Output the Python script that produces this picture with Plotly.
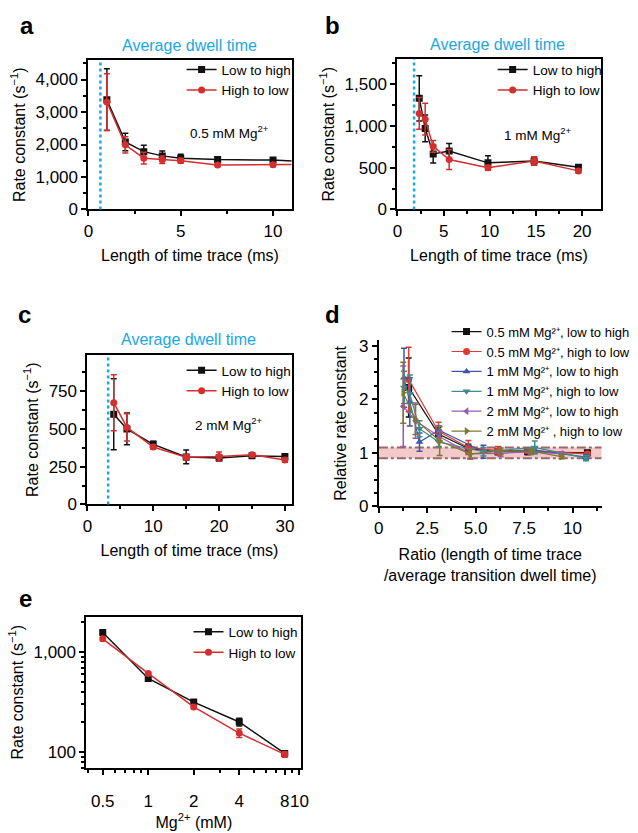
import math
import plotly.graph_objects as go

W, H = 638, 833
FONT = "Liberation Sans, Arial, sans-serif"
BLACK = "#111111"
RED = "#D32F2F"
SKY = "#1AA7E4"

# ---- panel a : 0.5 mM Mg2+ ----
A_T = [1, 2, 3, 4, 5, 7, 10, 15]
A_LH = [3380, 2080, 1780, 1650, 1580, 1540, 1520, 1400]
A_LH_ERR = [950, 270, 200, 150, 120, 70, 50, 50]
A_HL = [3310, 1990, 1580, 1530, 1500, 1370, 1375, 1400]
A_HL_ERR = [870, 250, 180, 115, 80, 50, 50, 50]

# ---- panel b : 1 mM Mg2+ ----
B_T = [2.36, 3.0, 3.87, 5.6, 9.8, 14.8, 19.6]
B_LH = [1330, 970, 665, 700, 558, 580, 505]
B_LH_ERR = [270, 160, 110, 90, 85, 50, 30]
B_HL = [1150, 1080, 755, 598, 500, 580, 462]
B_HL_ERR = [190, 190, 70, 120, 30, 50, 25]

# ---- panel c : 2 mM Mg2+ ----
C_T = [4, 6, 10, 15, 20, 25, 30]
C_LH = [597, 500, 398, 315, 308, 322, 318]
C_LH_ERR = [235, 105, 20, 45, 20, 12, 12]
C_HL = [674, 510, 380, 312, 318, 330, 295]
C_HL_ERR = [185, 90, 15, 20, 30, 12, 15]

# average dwell time (ms) for a, b, c
DWELL = [0.65, 1.8, 3.15]

# ---- panel d : relative rate constants ----
D_X_05 = [1.54, 3.08, 4.62, 6.15, 7.69, 10.77]
D_05_LH = [2.22, 1.35, 1.08, 1.02, 1.02, 1.0]
D_05_LH_ERR = [0.55, 0.12, 0.08, 0.05, 0.05, 0.04]
D_05_HL = [2.37, 1.4, 1.1, 1.04, 1.04, 0.98]
D_05_HL_ERR = [0.6, 0.17, 0.13, 0.08, 0.05, 0.04]
D_X_1 = [1.3, 1.6, 2.1, 3.1, 5.4, 8.05, 10.7]
D_1_LH = [2.4, 1.95, 1.2, 1.42, 1.02, 1.05, 0.92]
D_1_LH_ERR = [0.55, 0.45, 0.17, 0.08, 0.12, 0.06, 0.05]
D_1_HL = [2.22, 2.1, 1.45, 1.2, 1.02, 1.1, 0.9]
D_1_HL_ERR = [0.3, 0.35, 0.15, 0.08, 0.08, 0.12, 0.05]
D_X_2 = [1.26, 1.89, 3.14, 4.72, 6.29, 7.86, 9.43]
D_2_LH = [1.87, 1.6, 1.3, 0.98, 0.99, 1.02, 0.98]
D_2_LH_ERR = [0.75, 0.33, 0.1, 0.1, 0.06, 0.05, 0.04]
D_2_HL = [2.12, 1.62, 1.22, 0.98, 1.03, 1.03, 0.93]
D_2_HL_ERR = [0.57, 0.28, 0.27, 0.08, 0.06, 0.05, 0.04]
BAND = (0.9, 1.1)

# ---- panel e : rate vs Mg2+ ----
E_MG = [0.5, 1, 2, 4, 8]
E_LH = [1570, 545, 316, 200, 97]
E_LH_ERR = [60, 25, 12, 18, 6]
E_HL = [1355, 611, 283, 155, 95]
E_HL_ERR = [50, 20, 12, 15, 6]


def px_x(x0, x1):
    return [x0 / W, x1 / W]


def px_y(y_top, y_bot):
    return [1 - y_bot / H, 1 - y_top / H]


def axis(domain, rng, anchor, mirror=True, **kw):
    d = dict(domain=domain, range=rng, anchor=anchor, showline=True, linecolor="black",
             linewidth=2, mirror=mirror, ticks="outside", ticklen=5, tickwidth=1.5,
             tickcolor="black", showgrid=False, zeroline=False,
             tickfont=dict(size=17, color="black"),
             minor=dict(ticks="outside", ticklen=3, tickwidth=1.5, tickcolor="black"))
    d.update(kw)
    return d


fig = go.Figure()


def add_series(x, y, err, name, color, symbol, xa, ya, legend, size=7, lw=1.5):
    fig.add_trace(go.Scatter(
        x=x, y=y, name=name, mode="lines+markers", xaxis=xa, yaxis=ya, legend=legend,
        line=dict(color=color, width=lw),
        marker=dict(color=color, symbol=symbol, size=size),
        error_y=dict(type="data", array=err, color=color, thickness=1.5, width=3),
    ))


add_series(A_T, A_LH, A_LH_ERR, "Low to high", BLACK, "square", "x", "y", "legend")
add_series(A_T, A_HL, A_HL_ERR, "High to low", RED, "circle", "x", "y", "legend")
add_series(B_T, B_LH, B_LH_ERR, "Low to high", BLACK, "square", "x2", "y2", "legend2")
add_series(B_T, B_HL, B_HL_ERR, "High to low", RED, "circle", "x2", "y2", "legend2")
add_series(C_T, C_LH, C_LH_ERR, "Low to high", BLACK, "square", "x3", "y3", "legend3")
add_series(C_T, C_HL, C_HL_ERR, "High to low", RED, "circle", "x3", "y3", "legend3")

d_series = [
    (D_X_05, D_05_LH, D_05_LH_ERR, "0.5 mM Mg²⁺, low to high", BLACK, "square"),
    (D_X_05, D_05_HL, D_05_HL_ERR, "0.5 mM Mg²⁺, high to low", "#E03A33", "circle"),
    (D_X_1, D_1_LH, D_1_LH_ERR, "1 mM Mg²⁺, low to high", "#3B57A6", "triangle-up"),
    (D_X_1, D_1_HL, D_1_HL_ERR, "1 mM Mg²⁺, high to low", "#3E8A8C", "triangle-down"),
    (D_X_2, D_2_LH, D_2_LH_ERR, "2 mM Mg²⁺, low to high", "#9A5BB0", "triangle-left"),
    (D_X_2, D_2_HL, D_2_HL_ERR, "2 mM Mg²⁺ , high to low", "#7C7A2B", "triangle-right"),
]
for x, y, e, n, c, s in d_series:
    add_series(x, y, e, n, c, s, "x4", "y4", "legend4", size=7, lw=1.2)

add_series(E_MG, E_LH, E_LH_ERR, "Low to high", BLACK, "square", "x5", "y5", "legend5")
add_series(E_MG, E_HL, E_HL_ERR, "High to low", RED, "circle", "x5", "y5", "legend5")

rate_title = dict(text="Rate constant (s<sup>−1</sup>)", font=dict(size=16), standoff=6)
len_title = dict(text="Length of time trace (ms)", font=dict(size=16), standoff=10)

leg = dict(xanchor="left", yanchor="top", bgcolor="rgba(0,0,0,0)", font=dict(size=13.5),
           tracegroupgap=0, itemwidth=30)

fig.update_layout(
    width=W, height=H, margin=dict(l=0, r=0, t=0, b=0),
    paper_bgcolor="white", plot_bgcolor="white",
    font=dict(family=FONT, color="black", size=14),
    xaxis=axis(px_x(85, 292), [0, 11], "y", dtick=5, minor_dtick=2.5, title=len_title),
    yaxis=axis(px_y(57, 209), [0, 4600], "x", dtick=1000, minor_dtick=500, tickformat=",",
               title=rate_title),
    xaxis2=axis(px_x(400, 607), [0, 22], "y2", dtick=5, minor_dtick=2.5, title=len_title),
    yaxis2=axis(px_y(56, 209), [0, 1800], "x2", dtick=500, minor_dtick=250, tickformat=",",
                title=rate_title),
    xaxis3=axis(px_x(84, 292), [0, 31], "y3", dtick=10, minor_dtick=5, title=len_title),
    yaxis3=axis(px_y(357, 509), [0, 990], "x3", dtick=250, minor_dtick=125, title=rate_title),
    xaxis4=axis(px_x(381, 608), [0, 11.5], "y4", mirror=False, tickvals=[0, 2.5, 5, 7.5, 10],
                ticktext=["0", "2.5", "5.0", "7.5", "10"], minor_dtick=1.25,
                title=dict(text="Ratio (length of time trace<br>/average transition dwell time)",
                           font=dict(size=16), standoff=12)),
    yaxis4=axis(px_y(342, 511), [0, 3.1], "x4", mirror=False, dtick=1, minor_dtick=0.25,
                title=dict(text="Relative rate constant", font=dict(size=16), standoff=8)),
    xaxis5=axis(px_x(83, 302), [math.log10(0.39), math.log10(10.3)], "y5", type="log",
                tickvals=[0.5, 1, 2, 4, 8, 10], ticktext=["0.5", "1", "2", "4", "8", "10"],
                tickangle=0,
                minor=dict(ticks="outside", ticklen=3, tickwidth=1.5, tickcolor="black",
                           tickvals=[0.4, 0.6, 0.7, 0.8, 0.9, 3, 5, 6, 7, 9]),
                ticklabelstandoff=12,
                title=dict(text="Mg<sup>2+</sup> (mM)", font=dict(size=16), standoff=2)),
    yaxis5=axis(px_y(623, 777), [1.842, 3.355], "x5", type="log",
                tickvals=[100, 1000], ticktext=["100", "1,000"],
                minor=dict(ticks="outside", ticklen=3, tickwidth=1.5, tickcolor="black",
                           tickvals=[70, 80, 90, 200, 300, 400, 500, 600, 700, 800, 900, 2000]),
                title=rate_title),
    legend=dict(leg, x=180 / W, y=1 - 51 / H),
    legend2=dict(leg, x=497 / W, y=1 - 51 / H),
    legend3=dict(leg, x=180 / W, y=1 - 357 / H),
    legend4=dict(leg, x=450 / W, y=1 - 318 / H, font=dict(size=13)),
    legend5=dict(leg, x=187 / W, y=1 - 623 / H),
    showlegend=True,
)

# dwell-time markers and the +/-10 % band
for xr, yr, t in zip(["x", "x2", "x3"], ["y", "y2", "y3"], DWELL):
    fig.add_shape(type="line", xref=xr, yref=yr + " domain", x0=t, x1=t, y0=0, y1=1,
                  line=dict(color=SKY, width=2.5, dash="dot"))
fig.add_shape(type="rect", xref="x4 domain", yref="y4", x0=0, x1=1, y0=BAND[0], y1=BAND[1],
              fillcolor="rgba(232,150,150,0.5)", line=dict(width=0), layer="below")
for b in BAND:
    fig.add_shape(type="line", xref="x4 domain", yref="y4", x0=0, x1=1, y0=b, y1=b,
                  line=dict(color="#9A6868", width=2, dash="dashdot"), layer="below")


def note(x, y, text, size=16, color="black"):
    fig.add_annotation(x=x / W, y=1 - y / H, xref="paper", yref="paper", text=text,
                       xanchor="center", yanchor="middle", showarrow=False,
                       font=dict(size=size, color=color))


for lab, x, y in [("a", 22, 22), ("b", 334, 22), ("c", 20, 316), ("d", 334, 316), ("e", 21, 605)]:
    note(x, y, "<b>%s</b>" % lab, size=24)
for x, y in [(188, 42), (502, 41), (187, 341)]:
    note(x, y, "Average dwell time", color=SKY)
note(229, 130, "0.5 mM Mg<sup>2+</sup>", size=13.5)
note(543, 132, "1 mM Mg<sup>2+</sup>", size=13.5)
note(228, 427, "2 mM Mg<sup>2+</sup>", size=13.5)

# the page body has an 8px default margin; drop it so the figure sits at the page corner
fig.write_html("out.html", config={"displayModeBar": False},
               post_script="document.body.style.margin = '0px';")
